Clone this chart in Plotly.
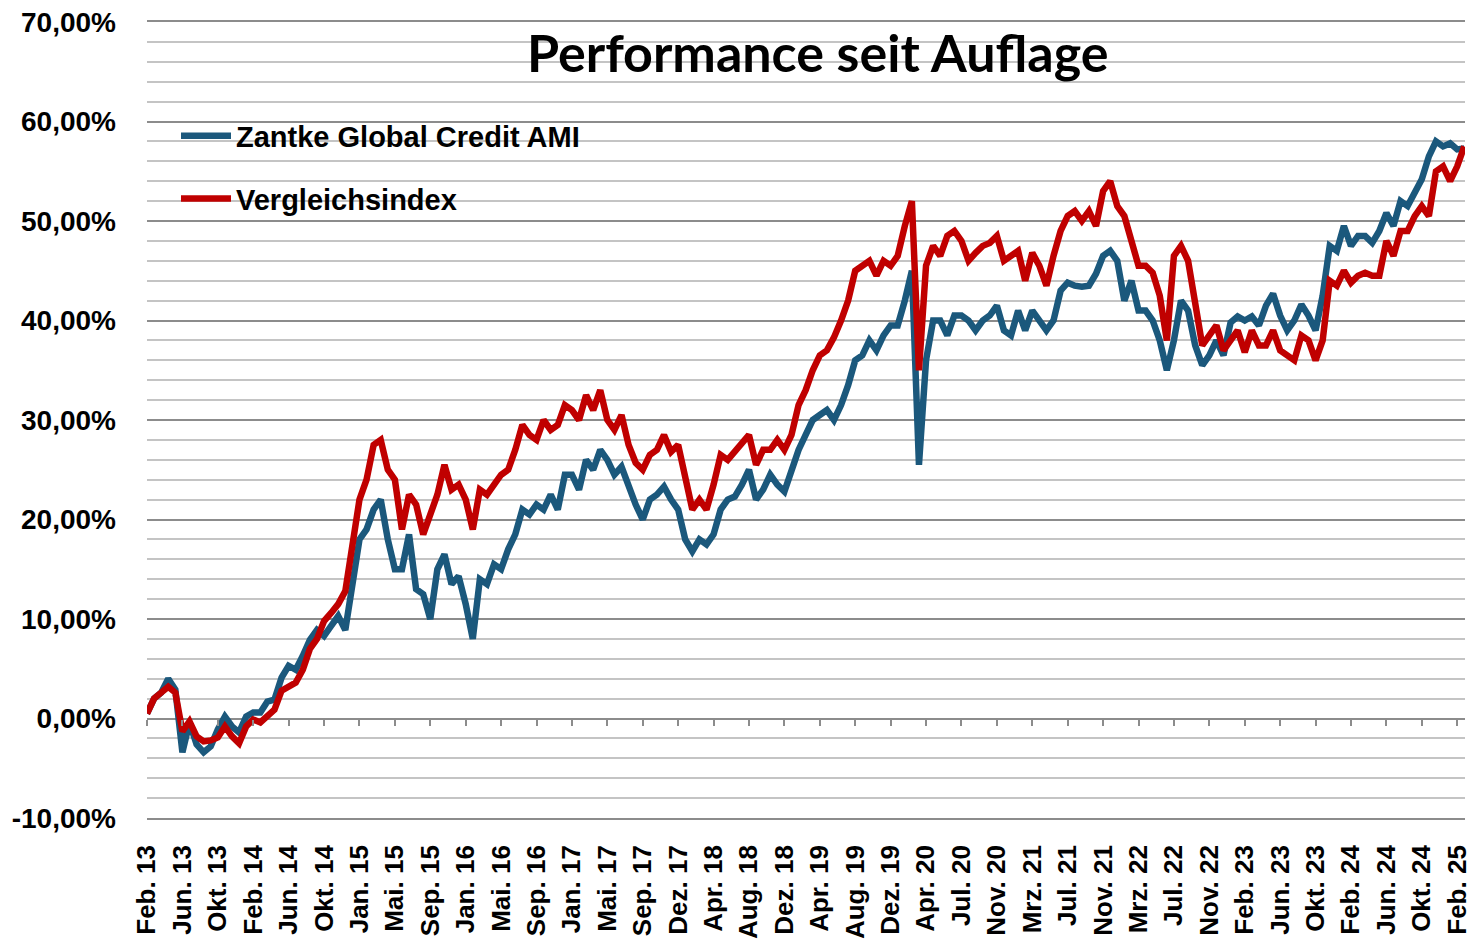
import plotly.graph_objects as go

x_labels = ["Feb. 13", "Jun. 13", "Okt. 13", "Feb. 14", "Jun. 14", "Okt. 14", "Jan. 15", "Mai. 15",
            "Sep. 15", "Jan. 16", "Mai. 16", "Sep. 16", "Jan. 17", "Mai. 17", "Sep. 17", "Dez. 17",
            "Apr. 18", "Aug. 18", "Dez. 18", "Apr. 19", "Aug. 19", "Dez. 19", "Apr. 20", "Jul. 20",
            "Nov. 20", "Mrz. 21", "Jul. 21", "Nov. 21", "Mrz. 22", "Jul. 22", "Nov. 22", "Feb. 23",
            "Jun. 23", "Okt. 23", "Feb. 24", "Jun. 24", "Okt. 24", "Feb. 25"]
points_per_label = 5

zantke = [0.5, 2.0, 2.6, 4.0, 2.9, -3.4, -0.4, -2.6, -3.4, -2.8,
          -1.1, 0.2, -0.8, -1.4, 0.2, 0.6, 0.6, 1.7, 1.9, 4.1,
          5.3, 4.9, 6.3, 7.9, 8.9, 8.3, 9.3, 10.3, 8.9, 13.5,
          18.0, 19.0, 21.0, 22.0, 18.0, 15.0, 15.0, 18.5, 13.0, 12.5,
          10.0, 15.0, 16.5, 13.5, 14.3, 11.5, 8.0, 14.0, 13.5, 15.5,
          15.0, 17.0, 18.5, 21.0, 20.5, 21.5, 21.0, 22.5, 21.0, 24.5,
          24.5, 23.0, 26.0, 25.0, 27.0, 26.0, 24.5, 25.3, 23.3, 21.5,
          20.0, 22.0, 22.5, 23.3, 22.0, 21.0, 18.0, 16.8, 18.0, 17.5,
          18.5, 21.0, 22.0, 22.3, 23.5, 25.0, 22.0, 23.0, 24.5, 23.5,
          22.8, 25.0, 27.0, 28.5, 30.0, 30.5, 31.0, 30.0, 31.5, 33.5,
          36.0, 36.5, 38.0, 37.0, 38.5, 39.5, 39.5, 42.0, 45.0, 25.5,
          36.0, 40.0, 40.0, 38.5, 40.5, 40.5, 40.0, 39.0, 40.0, 40.5,
          41.5, 39.0, 38.5, 41.0, 39.0, 41.0, 40.0, 39.0, 40.0, 43.0,
          43.8, 43.5, 43.4, 43.5, 44.7, 46.5, 47.0, 46.0, 42.0, 44.0,
          41.0, 41.0, 40.0, 38.0, 35.0, 38.0, 42.0, 41.0, 37.5, 35.5,
          36.5, 38.0, 36.5, 39.8, 40.4, 40.0, 40.4, 39.5, 41.5, 42.7,
          40.5, 39.0, 40.0, 41.6, 40.5, 39.0, 42.5, 47.5, 47.0, 49.5,
          47.5, 48.5, 48.5, 47.8, 49.0, 50.8, 49.5, 52.0, 51.5, 53.0,
          54.2, 56.5, 58.0, 57.5, 57.8, 57.2, 57.3]

vergleich = [0.5, 2.0, 2.6, 3.2, 2.6, -1.3, -0.3, -1.8, -2.3, -2.2,
             -1.9, -0.8, -1.8, -2.5, -0.8, -0.1, -0.4, 0.2, 0.9, 2.8,
             3.2, 3.6, 4.9, 7.0, 8.0, 9.8, 10.6, 11.5, 12.8, 17.0,
             22.0, 24.0, 27.5, 28.0, 25.0, 24.0, 19.0, 22.5, 21.5, 18.5,
             20.5, 22.5, 25.5, 23.0, 23.5, 22.0, 19.0, 23.0, 22.5, 23.5,
             24.5, 25.0, 27.0, 29.5, 28.5, 28.0, 30.0, 29.0, 29.5, 31.5,
             31.0, 30.0, 32.5, 31.0, 33.0, 30.0, 29.0, 30.5, 27.5, 25.7,
             25.0, 26.5, 27.0, 28.5, 26.8, 27.5, 24.0, 21.0, 22.0, 21.0,
             23.5, 26.5, 26.0, 26.8, 27.5, 28.5, 25.5, 27.0, 27.0, 28.0,
             27.0, 28.5, 31.5, 33.0, 35.0, 36.5, 37.0, 38.3, 40.0, 42.0,
             45.0, 45.5, 46.0, 44.5, 46.0, 45.5, 46.5, 49.5, 52.0, 35.0,
             45.5, 47.5, 46.5, 48.5, 49.0, 48.0, 46.0, 46.8, 47.5, 47.8,
             48.5, 46.0, 46.5, 47.0, 44.0, 46.8, 45.5, 43.5, 46.5, 49.0,
             50.5, 51.0, 50.0, 51.0, 49.5, 53.0, 54.0, 51.5, 50.5, 48.0,
             45.5, 45.5, 44.8, 42.5, 38.0, 46.5, 47.5, 46.0, 41.5, 37.5,
             38.5, 39.5, 37.0, 38.0, 39.0, 36.8, 39.0, 37.5, 37.5, 39.0,
             37.0, 36.5, 36.0, 38.5, 38.0, 36.0, 38.0, 44.0, 43.5, 45.0,
             43.8, 44.5, 44.8, 44.5, 44.5, 48.0, 46.5, 49.0, 49.0, 50.5,
             51.5, 50.5, 55.0, 55.5, 54.0, 55.5, 57.5]

y_ticks = [-10, 0, 10, 20, 30, 40, 50, 60, 70]
y_ticktext = ["-10,00%", "0,00%", "10,00%", "20,00%", "30,00%", "40,00%", "50,00%", "60,00%", "70,00%"]

BLUE = "#1B587C"
RED = "#C00000"
FONT = "Liberation Sans, Arial, sans-serif"

xs = list(range(len(zantke)))
tickvals = [i * points_per_label for i in range(len(x_labels))]

fig = go.Figure()
fig.add_trace(go.Scatter(x=xs, y=zantke, mode="lines", name="Zantke Global Credit AMI",
                         line=dict(color=BLUE, width=6.5), legendgroup="a"))
fig.add_trace(go.Scatter(x=xs, y=vergleich, mode="lines", name="Vergleichsindex",
                         line=dict(color=RED, width=6.5), legendgroup="b"))
# helper trace for axis tick marks on the 0% line
fig.add_trace(go.Scatter(x=tickvals, y=[None] * len(tickvals), mode="lines", xaxis="x2",
                         showlegend=False, hoverinfo="skip"))

xrange = [0, len(zantke) - 0.9]
fig.update_layout(
    width=1474, height=939,
    paper_bgcolor="white", plot_bgcolor="white",
    margin=dict(l=147, r=9, t=22, b=121, autoexpand=False),
    showlegend=True,
    legend=dict(x=0.022, y=0.889, xanchor="left", yanchor="top",
                bgcolor="rgba(0,0,0,0)", font=dict(family=FONT, size=29, color="black", weight="bold"),
                tracegroupgap=22, itemwidth=50),
    xaxis=dict(range=xrange, tickvals=tickvals, ticktext=x_labels, tickangle=-90,
               tickfont=dict(family=FONT, size=26, color="black", weight="bold"),
               showgrid=False, zeroline=False, ticks="", automargin=False,
               showline=True, mirror=True, linecolor="#8c8c8c", linewidth=1.5,
               ticklabelstandoff=15),
    xaxis2=dict(range=xrange, overlaying="x", anchor="free", position=0.125, side="bottom",
                tickvals=tickvals, showticklabels=False, ticks="outside", ticklen=6,
                tickcolor="#8c8c8c", tickwidth=1.5, showgrid=False, zeroline=False, showline=False,
                automargin=False),
    yaxis=dict(range=[-10, 70], tickvals=y_ticks, ticktext=y_ticktext,
               tickfont=dict(family=FONT, size=28, color="black", weight="bold"),
               showgrid=True, gridcolor="#8c8c8c", gridwidth=1.5,
               minor=dict(dtick=2, showgrid=True, gridcolor="#c4c4c4", gridwidth=1.5),
               zeroline=False, showline=False, ticks="", ticklabelstandoff=30, automargin=False),
    annotations=[dict(text="<b>Performance seit Auflage</b>", xref="paper", yref="paper",
                      x=0.509, y=0.962, xanchor="center", yanchor="middle", showarrow=False,
                      font=dict(family="Lato, Carlito, Calibri, sans-serif", size=52, color="black"))],
)

fig.write_html("out.html", config={"displayModeBar": False},
               post_script="document.body.style.margin='0';document.body.style.padding='0';"
                           "document.body.style.overflow='hidden';")
